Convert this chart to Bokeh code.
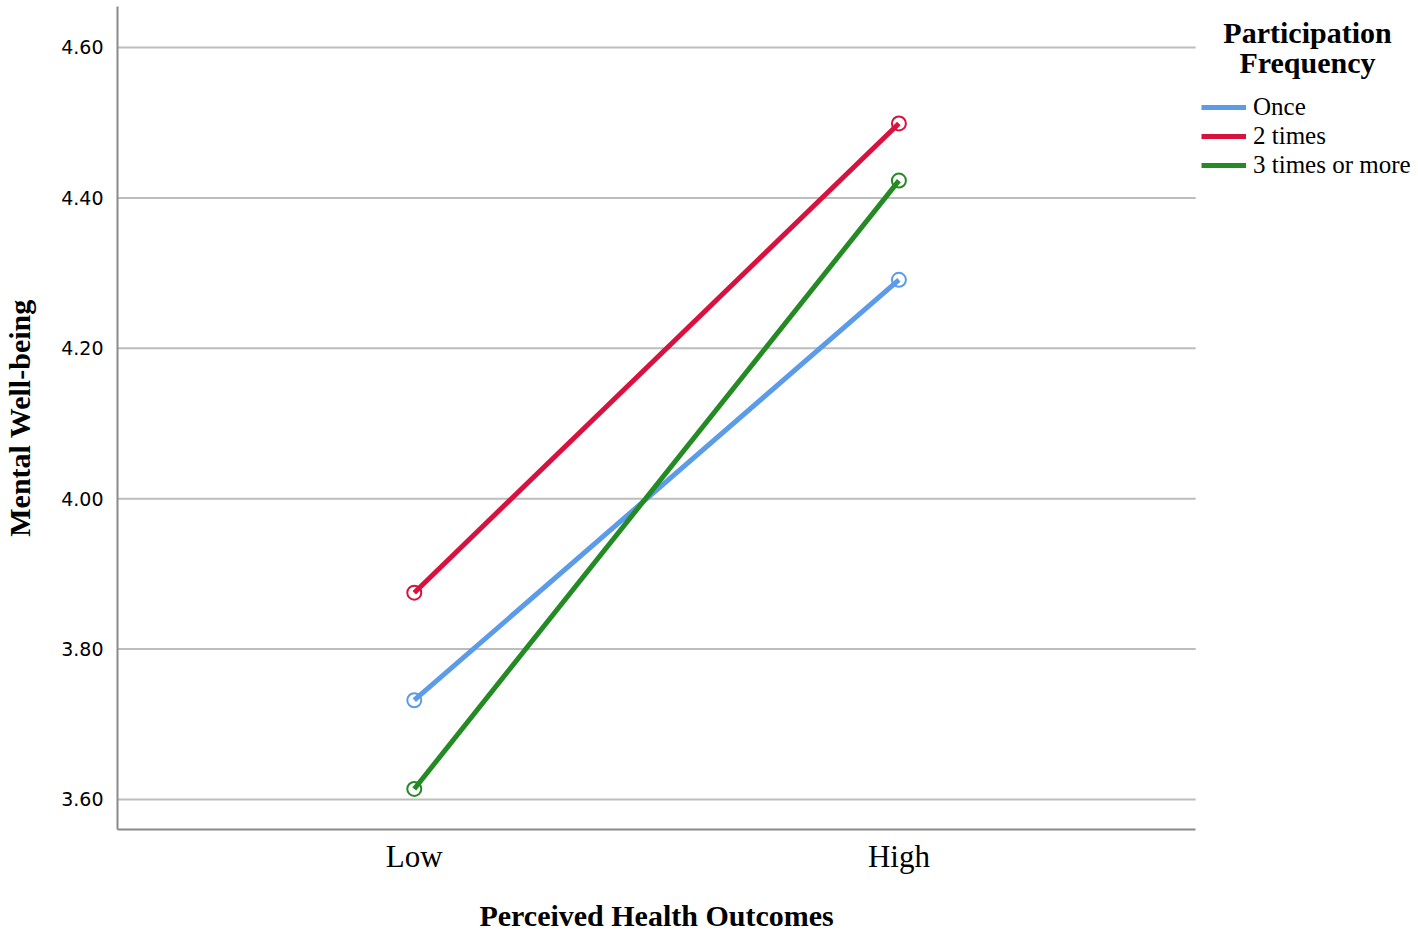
from bokeh.plotting import figure
from bokeh.models import Range1d, FixedTicker, Legend, LegendItem, Label, LinearAxis
from bokeh.embed import file_html
from bokeh.resources import INLINE

categories = ["Low", "High"]
x_pos = [0, 1]
series_names = ["Once", "2 times", "3 times or more"]
once = [3.732, 4.291]
two_times = [3.875, 4.499]
three_more = [3.614, 4.423]
y_ticks = [3.60, 3.80, 4.00, 4.20, 4.40, 4.60]
legend_title_lines = ["Participation", "Frequency"]
x_title = "Perceived Health Outcomes"
y_title = "Mental Well-being"
colors = ["#5B9BE8", "#D8123F", "#248A24"]

SERIF = "Liberation Serif"
X_START, X_END = -0.6124, 2.0722
AXIS_END = 1.6124
Y_START, Y_END = 3.5601, 4.6545

p = figure(width=1418, height=934, output_backend="svg", toolbar_location=None,
           x_range=Range1d(X_START, X_END), y_range=Range1d(Y_START, Y_END),
           min_border_left=116, min_border_right=0, min_border_top=6, min_border_bottom=105)
p.outline_line_color = None
p.background_fill_color = "white"

# horizontal grid lines limited to the plot area (legend sits to the right)
p.segment(x0=[X_START] * len(y_ticks), y0=y_ticks, x1=[AXIS_END] * len(y_ticks), y1=y_ticks,
          line_color="#bdbdbd", line_width=2)

items = []
for name, vals, c in zip(series_names, [once, two_times, three_more], colors):
    r = p.line(x_pos, vals, line_color=c, line_width=5)
    p.scatter(x_pos, vals, size=14, marker="circle", fill_color="white", fill_alpha=0.0,
              line_color=c, line_width=2)
    items.append(LegendItem(label=name, renderers=[r]))

# axes
p.xaxis.bounds = (X_START, AXIS_END)
p.xaxis.ticker = FixedTicker(ticks=x_pos)
p.xaxis.major_label_overrides = {x: c for x, c in zip(x_pos, categories)}
p.xaxis.major_tick_line_color = None
p.xaxis.minor_tick_line_color = None
p.xaxis.axis_line_color = "#8a8a8a"
p.xaxis.axis_line_width = 2
p.xaxis.major_label_text_font = SERIF
p.xaxis.major_label_text_font_size = "31px"
p.xaxis.major_label_text_color = "black"
p.xaxis.major_label_standoff = 3

# x-axis title centred under the plotting area (not under the legend column)
title_mid = (X_START + AXIS_END) / 2
title_axis = LinearAxis(ticker=FixedTicker(ticks=[title_mid]),
                        major_label_overrides={title_mid: x_title},
                        axis_line_color=None, major_tick_line_color=None,
                        minor_tick_line_color=None, major_label_standoff=16,
                        major_label_text_font=SERIF, major_label_text_font_style="bold",
                        major_label_text_font_size="30px", major_label_text_color="black")
p.add_layout(title_axis, "below")

p.yaxis.ticker = FixedTicker(ticks=y_ticks)
p.yaxis.major_label_overrides = {t: f"{t:.2f}" for t in y_ticks}
p.yaxis.major_tick_line_color = None
p.yaxis.minor_tick_line_color = None
p.yaxis.axis_line_color = "#8a8a8a"
p.yaxis.axis_line_width = 2
p.yaxis.major_label_text_font = "DejaVu Sans"
p.yaxis.major_label_text_font_size = "19px"
p.yaxis.major_label_text_color = "black"
p.yaxis.major_label_standoff = 8
p.yaxis.axis_label = y_title
p.yaxis.axis_label_text_font = SERIF
p.yaxis.axis_label_text_font_style = "bold"
p.yaxis.axis_label_text_font_size = "30px"
p.yaxis.axis_label_text_color = "black"
p.yaxis.axis_label_standoff = 22

p.xgrid.grid_line_color = None
p.ygrid.grid_line_color = None

legend = Legend(items=items,
                label_text_font=SERIF, label_text_font_size="25px", label_text_color="black",
                glyph_width=45, glyph_height=20, label_standoff=7,
                spacing=1, padding=0, margin=0,
                border_line_color=None, background_fill_alpha=0.0,
                location=(1084, 650))
p.add_layout(legend)

for i, line in enumerate(legend_title_lines):
    p.add_layout(Label(x=1190, y=814 - 30 * i, x_units="screen", y_units="screen",
                       text=line, text_font=SERIF, text_font_style="bold",
                       text_font_size="30px", text_color="black",
                       text_align="center", text_baseline="top"))

open("out.html", "w").write(file_html(p, INLINE))
